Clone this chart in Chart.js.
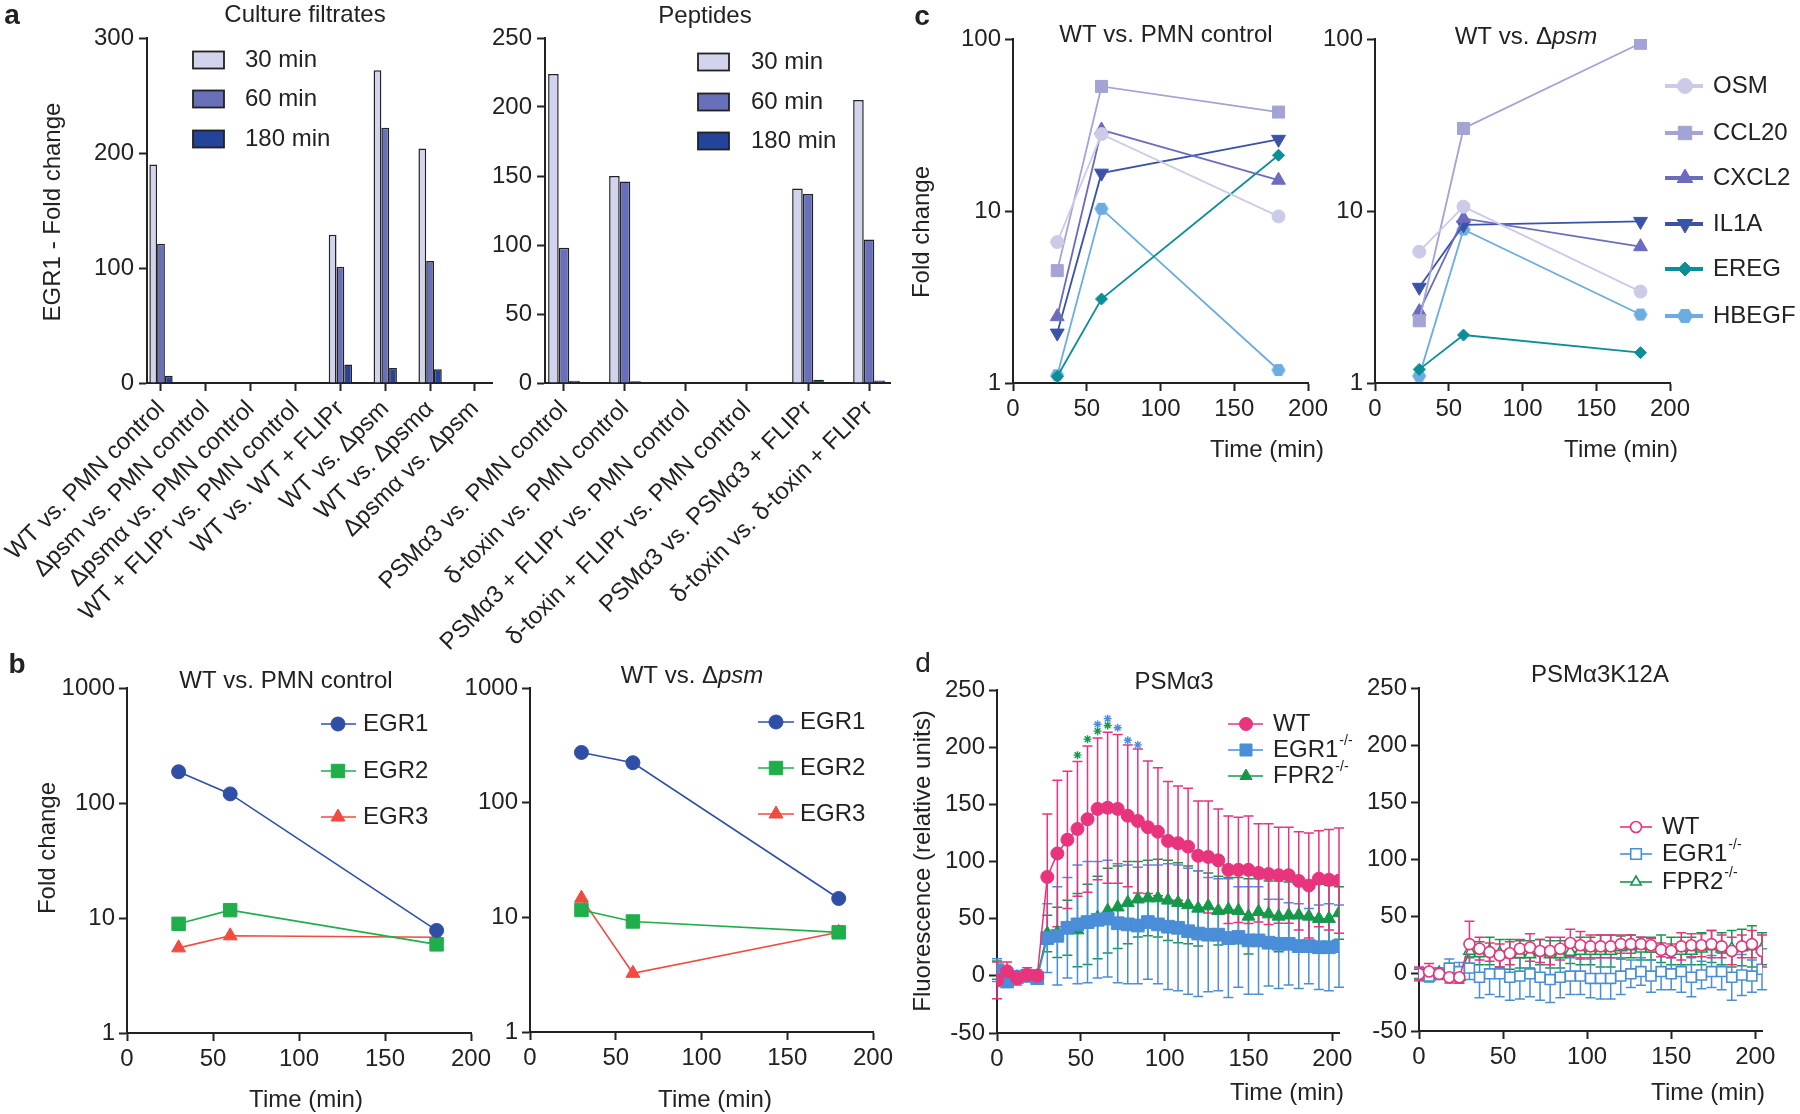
<!DOCTYPE html>
<html>
<head>
<meta charset="utf-8">
<script src="https://cdn.jsdelivr.net/npm/chart.js@4.4.0/dist/chart.umd.min.js"></script>
<style>
html, body { margin: 0; padding: 0; background: #fff; }
#fig { position: relative; width: 1800px; height: 1114px; }
#fig canvas { position: absolute; left: 0; top: 0; }
</style>
</head>
<body>
<div id="fig">
  <canvas id="a1" width="1800" height="1114"></canvas>
  <canvas id="a2" width="1800" height="1114"></canvas>
  <canvas id="b1" width="1800" height="1114"></canvas>
  <canvas id="b2" width="1800" height="1114"></canvas>
  <canvas id="c1" width="1800" height="1114"></canvas>
  <canvas id="c2" width="1800" height="1114"></canvas>
  <canvas id="d1" width="1800" height="1114"></canvas>
  <canvas id="d2" width="1800" height="1114"></canvas>
</div>
<script>
var PAGE_W = 1800, PAGE_H = 1114;
var FONT = '"Liberation Sans", Arial, Helvetica, sans-serif';
var INK = '#222222';

// ---- panel a: EGR1 fold change bars
var barTimes = ['30 min', '60 min', '180 min'];
var filtrateLabels = ['WT vs. PMN control', 'Δpsm vs. PMN control', 'Δpsmα vs. PMN control',
  'WT + FLIPr vs. PMN control', 'WT vs. WT + FLIPr', 'WT vs. Δpsm', 'WT vs. Δpsmα', 'Δpsmα vs. Δpsm'];
var filtrate30 = [190, 0, 0, 0, 129, 272, 204, 0];
var filtrate60 = [121, 0, 0, 0, 101, 222, 106, 0];
var filtrate180 = [6.4, 0, 0, 0, 16, 13, 12, 0];
var peptideLabels = ['PSMα3 vs. PMN control', 'δ-toxin vs. PMN control', 'PSMα3 + FLIPr vs. PMN control',
  'δ-toxin + FLIPr vs. PMN control', 'PSMα3 vs. PSMα3 + FLIPr', 'δ-toxin vs. δ-toxin + FLIPr'];
var peptide30 = [224, 150, 0, 0, 141, 205];
var peptide60 = [98, 146, 0, 0, 137, 104];
var peptide180 = [1.7, 1.2, 0, 0, 2.4, 1.9];
var filtrateTicks = [0, 100, 200, 300];
var peptideTicks = [0, 50, 100, 150, 200, 250];

// ---- panel b: EGR family time course
var egrNames = ['EGR1', 'EGR2', 'EGR3'];
var sampleTimes = [30, 60, 180];
var pmnEGR1 = [187, 120, 7.8];
var pmnEGR2 = [8.9, 11.7, 5.9];
var pmnEGR3 = [5.5, 7.0, 6.8];
var psmEGR1 = [274, 223, 14.6];
var psmEGR2 = [11.6, 9.2, 7.4];
var psmEGR3 = [14.7, 3.25, 7.4];
var logTicksB = [1, 10, 100, 1000];
var timeTicks = [0, 50, 100, 150, 200];

// ---- panel c: other genes
var geneNames = ['OSM', 'CCL20', 'CXCL2', 'IL1A', 'EREG', 'HBEGF'];
var pmnOSM = [6.6, 28, 9.3];
var pmnCCL20 = [4.5, 53, 37.6];
var pmnCXCL2 = [2.43, 29.6, 15.1];
var pmnIL1A = [1.95, 16.6, 26.1];
var pmnEREG = [1.09, 3.08, 21.1];
var pmnHBEGF = [1.11, 10.3, 1.19];
var psmOSM = [5.8, 10.6, 3.4];
var psmCCL20 = [2.3, 30.2, 94.4];
var psmCXCL2 = [2.6, 9.06, 6.2];
var psmIL1A = [3.6, 8.3, 8.7];
var psmEREG = [1.2, 1.9, 1.5];
var psmHBEGF = [1.1, 7.8, 2.5];
var logTicksC = [1, 10, 100];

// ---- panel d: fluorescence kinetics (mean and SD)
var strainNames = ['WT', 'EGR1', 'FPR2'];
var readTimes = [0, 6, 12, 18, 24, 30, 36, 42, 48, 54, 60, 66, 72, 78, 84, 90, 96, 102, 108, 114,
  120, 126, 132, 138, 144, 150, 156, 162, 168, 174, 180, 186, 192, 198, 204];
var a3WT = [-4, 4, -2, 1, 0, 86.5, 107, 119, 128.5, 137, 146, 147, 146, 140, 135.5, 130, 126, 118, 116, 113,
  105, 104, 101, 92.7, 92.7, 92.7, 90, 89, 88, 88, 83, 79, 85, 84, 83.3];
var a3WTsd = [16, 8, 6, 6, 5, 55, 64, 60, 59, 64, 62, 66, 65, 62, 63, 58, 56, 52, 50, 51,
  48, 49, 45, 47, 46, 47, 43, 44, 42, 42, 43, 46, 42, 44, 46];
var a3EGR1 = [5, -5, -1, 0, -2, 33, 35, 42, 45, 47, 49, 50, 46, 45, 44, 47, 45, 43, 42, 39,
  37, 36, 36, 33, 34, 31, 31, 29, 28, 28, 26, 26, 25, 25, 26];
var a3EGR1sd = [10, 5, 4, 4, 4, 30, 43, 44, 52, 53, 51, 51, 52, 52, 51, 50, 52, 55, 55, 55,
  55, 50, 49, 52, 44, 47, 47, 38, 39, 36, 37, 33, 37, 38, 36];
var a3FPR2 = [5, -5, -1, 0, 0, 37, 38, 42, 40, 45, 51, 57, 60, 64, 67, 68, 68, 66, 64, 62,
  59, 61, 57, 58, 57, 52, 56, 54, 52, 53, 53, 52, 50, 50, 55];
var a3FPR2sd = [8, 5, 4, 4, 4, 16, 22, 24, 32, 35, 36, 37, 36, 36, 33, 33, 34, 35, 35, 34,
  33, 29, 30, 28, 29, 33, 29, 29, 31, 29, 29, 28, 30, 29, 23];
var starGreenT = [48, 54, 60, 66];
var starGreenY = [193, 207, 214, 219];
var starBlueT = [60, 66, 72, 78, 84];
var starBlueY = [220, 225, 217, 206, 202];
var k12WT = [0, 2, 0, -3, -3, 26, 22, 19, 16, 18, 22, 23, 20, 20, 22, 27, 25, 24, 24, 24,
  26, 26, 26, 25, 21, 20, 24, 25, 25, 26, 24, 20, 24, 26, 20];
var k12WTsd = [6, 7, 3, 5, 5, 20, 10, 8, 10, 10, 8, 12, 10, 12, 10, 12, 12, 10, 10, 10,
  8, 8, 6, 6, 6, 6, 12, 10, 10, 12, 10, 12, 10, 12, 14];
var k12EGR1 = [0, -2, 0, 5, 2, 5, -3, 0, 0, -3, -2, 0, -3, -5, -3, -2, -2, -4, -4, -4,
  -2, 0, 2, -2, 2, 0, 2, -3, -1, 2, 2, -3, -1, -2, 4];
var k12EGR1sd = [5, 5, 5, 8, 8, 10, 18, 18, 20, 20, 20, 20, 20, 20, 18, 16, 16, 17, 18, 18,
  16, 12, 12, 14, 16, 14, 18, 17, 12, 14, 16, 20, 18, 14, 18];
var k12FPR2 = [0, -3, 1, 3, -3, 20, 18, 20, 18, 17, 17, 17, 19, 17, 17, 19, 20, 20, 20, 20,
  23, 24, 22, 22, 22, 20, 20, 20, 22, 24, 22, 22, 23, 24, 22];
var k12FPR2sd = [4, 4, 4, 5, 5, 6, 10, 12, 12, 13, 12, 12, 11, 12, 12, 10, 12, 12, 14, 14,
  10, 10, 10, 10, 12, 12, 12, 12, 14, 14, 14, 16, 16, 18, 14];
var fluoTicks = [-50, 0, 50, 100, 150, 200, 250];

// colours
var barColors = ['#d2d3ec', '#6870ba', '#24449b'];
var egrColors = ['#2f4ea6', '#1fae4b', '#f14b3f'];
var geneColors = ['#cbcbe8', '#a3a3d5', '#6b6cbd', '#3a52a8', '#0c8e98', '#6badE1'];
var strainColors = ['#e8337d', '#4a8ed8', '#16984b'];

function pts(xs, ys) { return ys.map(function (v, i) { return {x: xs[i], y: v}; }); }
function fontStr(style, size, weight) { return (style || '') + ' ' + (weight || '') + ' ' + size + 'px ' + FONT; }

function hexMark(color, r) {
  var c = document.createElement('canvas');
  c.width = c.height = Math.ceil(2 * r + 2);
  var g = c.getContext('2d'), m = c.width / 2;
  g.fillStyle = color;
  g.beginPath();
  for (var k = 0; k < 6; k++) {
    var ang = k * Math.PI / 3;
    g.lineTo(m + r * Math.cos(ang), m + r * Math.sin(ang));
  }
  g.closePath();
  g.fill();
  return c;
}
var hexPlot = hexMark(geneColors[5], 7);
var hexKey = hexMark(geneColors[5], 8);

// free text and legends, keyed by canvas id
var textSpecs = {};
var legendSpecs = {};

function drawRich(ctx, it) {
  var parts = typeof it.t === 'string' ? [[it.t, '']] : it.t;
  var size = it.size || 24;
  ctx.save();
  ctx.translate(it.x, it.y);
  if (it.rot) ctx.rotate(it.rot);
  ctx.fillStyle = INK;
  ctx.textBaseline = 'middle';
  ctx.textAlign = 'left';
  var total = 0;
  parts.forEach(function (p) { ctx.font = fontStr(p[1], size, it.weight); total += ctx.measureText(p[0]).width; });
  var x = it.align === 'left' ? 0 : -total / 2;
  parts.forEach(function (p) {
    ctx.font = fontStr(p[1], size, it.weight);
    ctx.fillText(p[0], x, 0);
    x += ctx.measureText(p[0]).width;
  });
  ctx.restore();
}

var textPlugin = {
  id: 'figTexts',
  afterDraw: function (chart) {
    (textSpecs[chart.canvas.id] || []).forEach(function (it) { drawRich(chart.ctx, it); });
  }
};

var legendPlugin = {
  id: 'figLegend',
  afterDraw: function (chart) {
    var o = legendSpecs[chart.canvas.id];
    if (!o) return;
    var ctx = chart.ctx;
    o.rows.forEach(function (r, i) {
      var y = o.ys[i];
      ctx.save();
      if (o.kind === 'box') {
        ctx.fillStyle = r.color;
        ctx.strokeStyle = INK;
        ctx.lineWidth = 1.8;
        ctx.fillRect(o.x1, y - o.h / 2, o.x2 - o.x1, o.h);
        ctx.strokeRect(o.x1, y - o.h / 2, o.x2 - o.x1, o.h);
      } else {
        ctx.strokeStyle = r.color;
        ctx.lineWidth = o.lw;
        ctx.beginPath();
        ctx.moveTo(o.x1, y);
        ctx.lineTo(o.x2, y);
        ctx.stroke();
        ctx.fillStyle = r.fill || r.color;
        ctx.lineWidth = r.bw || 1;
        Chart.helpers.drawPoint(ctx, {pointStyle: r.style, rotation: r.rot || 0, radius: r.r, borderWidth: r.bw || 1}, o.mx, y);
      }
      ctx.fillStyle = INK;
      ctx.font = fontStr('', 24);
      ctx.textBaseline = 'middle';
      ctx.textAlign = 'left';
      ctx.fillText(r.label, o.tx, y);
      if (r.sup) {
        var w = ctx.measureText(r.label).width;
        ctx.font = fontStr('', 14);
        ctx.fillText(r.sup, o.tx + w + 1, y - 9);
      }
      ctx.restore();
    });
  }
};

var errorBarPlugin = {
  id: 'errorBars',
  beforeDatasetsDraw: function (chart) {
    var ctx = chart.ctx, xs = chart.scales.x, ys = chart.scales.y;
    for (var i = chart.data.datasets.length - 1; i >= 0; i--) {
      var ds = chart.data.datasets[i];
      if (!ds.sd) continue;
      ctx.save();
      ctx.strokeStyle = ds.borderColor;
      ctx.lineWidth = 1.5;
      ds.data.forEach(function (p, j) {
        var px = xs.getPixelForValue(p.x);
        var top = ys.getPixelForValue(p.y + ds.sd[j]);
        var bot = ys.getPixelForValue(p.y - ds.sd[j]);
        ctx.beginPath();
        ctx.moveTo(px, top); ctx.lineTo(px, bot);
        ctx.moveTo(px - 5, top); ctx.lineTo(px + 5, top);
        ctx.moveTo(px - 5, bot); ctx.lineTo(px + 5, bot);
        ctx.stroke();
      });
      ctx.restore();
    }
  }
};

function axis(extra) {
  var a = {
    border: {display: true, color: INK, width: 2},
    grid: {display: true, drawOnChartArea: false, drawTicks: true, tickLength: 8, tickWidth: 2, tickColor: INK, offset: false},
    ticks: {color: INK, font: {family: FONT, size: 24}, padding: 4, autoSkip: false, maxRotation: 0, minRotation: 0}
  };
  for (var k in extra) {
    if (k === 'ticks') { for (var t in extra.ticks) a.ticks[t] = extra.ticks[t]; }
    else a[k] = extra[k];
  }
  return a;
}
function fixedTicks(values) {
  return function (s) { s.ticks = values.map(function (v) { return {value: v}; }); };
}

// area = [left, top, right, bottom] of the plot area in page pixels
function build(id, type, datasets, area, wy, hx, xOpts, yOpts) {
  xOpts.afterFit = function (s) { s.height = hx; };
  yOpts.afterFit = function (s) { s.width = wy; };
  return new Chart(document.getElementById(id), {
    type: type,
    data: {datasets: datasets},
    options: {
      responsive: false,
      animation: false,
      devicePixelRatio: 1,
      layout: {padding: {left: area[0] - wy, top: area[1], right: PAGE_W - area[2], bottom: PAGE_H - area[3] - hx}},
      plugins: {legend: {display: false}, tooltip: {enabled: false}, title: {display: false}},
      scales: {x: axis(xOpts), y: axis(yOpts)}
    },
    plugins: [errorBarPlugin, textPlugin, legendPlugin]
  });
}

// ================= panel a =================
function barSets(labels, s30, s60, s180) {
  return [s30, s60, s180].map(function (arr, k) {
    return {
      label: barTimes[k],
      data: arr.map(function (v, i) { return {x: i, y: v}; }),
      backgroundColor: barColors[k],
      borderColor: INK,
      borderWidth: 1.5,
      categoryPercentage: 0.52,
      barPercentage: 1.0
    };
  });
}
function catAxis(labels, min, max) {
  return {
    type: 'linear', min: min, max: max, offset: false,
    afterBuildTicks: fixedTicks(labels.map(function (l, i) { return i; })),
    ticks: {
      callback: function (v, i) { return labels[i]; },
      font: {family: FONT, size: 24},
      minRotation: 45, maxRotation: 45, padding: 4
    }
  };
}

textSpecs.a1 = [
  {t: 'a', x: 12, y: 16, size: 28, weight: 'bold'},
  {t: 'Culture filtrates', x: 305, y: 15},
  {t: 'EGR1 - Fold change', x: 53, y: 212, rot: -Math.PI / 2}
];
legendSpecs.a1 = {kind: 'box', x1: 193, x2: 224, h: 17, tx: 245, ys: [60, 99, 139],
  rows: barTimes.map(function (t, k) { return {label: t, color: barColors[k]}; })};
build('a1', 'bar', barSets(filtrateLabels, filtrate30, filtrate60, filtrate180), [147, 38, 492, 383], 80, 320,
  catAxis(filtrateLabels, -0.312, 7.38),
  {type: 'linear', min: 0, max: 300, afterBuildTicks: fixedTicks(filtrateTicks), ticks: {padding: 5}});

textSpecs.a2 = [{t: 'Peptides', x: 705, y: 16}];
legendSpecs.a2 = {kind: 'box', x1: 698, x2: 729, h: 17, tx: 751, ys: [62, 102, 141],
  rows: barTimes.map(function (t, k) { return {label: t, color: barColors[k]}; })};
build('a2', 'bar', barSets(peptideLabels, peptide30, peptide60, peptide180), [545, 38, 890, 383], 70, 320,
  catAxis(peptideLabels, -0.311, 5.344),
  {type: 'linear', min: 0, max: 250, afterBuildTicks: fixedTicks(peptideTicks), ticks: {padding: 5}});

// ================= panel b =================
var egrStyles = [{s: 'circle', r: 7}, {s: 'rect', r: 9.5}, {s: 'triangle', r: 8}];
function egrSets(s1, s2, s3) {
  return [s1, s2, s3].map(function (arr, k) {
    return {
      label: egrNames[k], data: pts(sampleTimes, arr),
      borderColor: egrColors[k], backgroundColor: egrColors[k], borderWidth: 1.6,
      pointStyle: egrStyles[k].s, pointRadius: egrStyles[k].r, pointBorderWidth: 1
    };
  });
}
function egrLegend(x1, x2, mx, tx, ys) {
  return {kind: 'line', x1: x1, x2: x2, mx: mx, tx: tx, ys: ys, lw: 1.6,
    rows: egrNames.map(function (n, k) { return {label: n, color: egrColors[k], style: egrStyles[k].s, r: egrStyles[k].r}; })};
}
function timeAxis(max) {
  return {type: 'linear', min: 0, max: max, afterBuildTicks: fixedTicks(timeTicks)};
}
function logAxis(max, ticks) {
  return {type: 'logarithmic', min: 1, max: max, afterBuildTicks: fixedTicks(ticks),
    ticks: {callback: function (v) { return String(v); }}};
}

textSpecs.b1 = [
  {t: 'b', x: 17, y: 665, size: 28, weight: 'bold'},
  {t: 'WT vs. PMN control', x: 286, y: 681},
  {t: 'Fold change', x: 48, y: 848, rot: -Math.PI / 2},
  {t: 'Time (min)', x: 306, y: 1100}
];
legendSpecs.b1 = egrLegend(321, 356, 338, 363, [724, 771, 817]);
build('b1', 'line', egrSets(pmnEGR1, pmnEGR2, pmnEGR3), [127, 688, 471, 1033], 80, 80,
  timeAxis(200), logAxis(1000, logTicksB));

textSpecs.b2 = [
  {t: [['WT vs. Δ', ''], ['psm', 'italic']], x: 692, y: 676},
  {t: 'Time (min)', x: 715, y: 1100}
];
legendSpecs.b2 = egrLegend(758, 794, 776, 800, [722, 768, 814]);
build('b2', 'line', egrSets(psmEGR1, psmEGR2, psmEGR3), [530, 688, 873, 1032], 80, 80,
  timeAxis(200), logAxis(1000, logTicksB));

// ================= panel c =================
var geneStyles = [
  {s: 'circle', r: 6.5, rot: 0}, {s: 'rect', r: 8.5, rot: 0}, {s: 'triangle', r: 8, rot: 0},
  {s: 'triangle', r: 8, rot: 180}, {s: 'rectRot', r: 6, rot: 0}, {s: hexPlot, r: 7, rot: 0}
];
function geneSets(list) {
  return list.map(function (arr, k) {
    return {
      label: geneNames[k], data: pts(sampleTimes, arr),
      borderColor: geneColors[k], backgroundColor: geneColors[k], borderWidth: 1.8,
      pointStyle: geneStyles[k].s, pointRadius: geneStyles[k].r, pointRotation: geneStyles[k].rot, pointBorderWidth: 1
    };
  });
}

textSpecs.c1 = [
  {t: 'c', x: 922, y: 17, size: 28, weight: 'bold'},
  {t: 'WT vs. PMN control', x: 1166, y: 35},
  {t: 'Fold change', x: 922, y: 232, rot: -Math.PI / 2},
  {t: 'Time (min)', x: 1267, y: 450}
];
build('c1', 'line', geneSets([pmnOSM, pmnCCL20, pmnCXCL2, pmnIL1A, pmnEREG, pmnHBEGF]), [1013, 39, 1308, 383], 70, 60,
  timeAxis(200), logAxis(100, logTicksC));

textSpecs.c2 = [
  {t: [['WT vs. Δ', ''], ['psm', 'italic']], x: 1526, y: 37},
  {t: 'Time (min)', x: 1621, y: 450}
];
legendSpecs.c2 = {kind: 'line', x1: 1665, x2: 1703, mx: 1685, tx: 1713, ys: [86, 133, 178, 224, 269, 316], lw: 4,
  rows: geneNames.map(function (n, k) {
    return {label: n, color: geneColors[k], style: k === 5 ? hexKey : geneStyles[k].s, r: geneStyles[k].r + 1, rot: geneStyles[k].rot};
  })};
build('c2', 'line', geneSets([psmOSM, psmCCL20, psmCXCL2, psmIL1A, psmEREG, psmHBEGF]), [1375, 39, 1670, 383], 70, 60,
  timeAxis(200), logAxis(100, logTicksC));

// ================= panel d =================
function strainSets(series, sds, open) {
  var styles = open ? [{s: 'circle', r: 5.5}, {s: 'rect', r: 7}, {s: 'triangle', r: 6.5}]
                    : [{s: 'circle', r: 6.5}, {s: 'rect', r: 9}, {s: 'triangle', r: 7.5}];
  return series.map(function (arr, k) {
    return {
      label: strainNames[k], data: pts(readTimes, arr), sd: sds[k],
      borderColor: strainColors[k], backgroundColor: strainColors[k], borderWidth: 1.5,
      pointStyle: styles[k].s, pointRadius: styles[k].r,
      pointBackgroundColor: open ? '#ffffff' : strainColors[k], pointBorderWidth: open ? 1.6 : 1
    };
  });
}
function strainLegend(x1, x2, mx, tx, ys, open) {
  var st = [{s: 'circle', r: 6.5}, {s: 'rect', r: 8.5}, {s: 'triangle', r: 7}];
  return {kind: 'line', x1: x1, x2: x2, mx: mx, tx: tx, ys: ys, lw: 1.6,
    rows: strainNames.map(function (n, k) {
      return {label: n, sup: k ? '-/-' : '', color: strainColors[k], style: st[k].s, r: open ? st[k].r - 1 : st[k].r,
        fill: open ? '#ffffff' : strainColors[k], bw: open ? 1.6 : 1};
    })};
}
function starSet(ts, ys, color) {
  return {label: 'p', data: pts(ts, ys), showLine: false, borderColor: color, backgroundColor: color,
    pointStyle: 'star', pointRadius: 4, pointBorderWidth: 1.4};
}

textSpecs.d1 = [
  {t: 'd', x: 923, y: 664, size: 28},
  {t: 'PSMα3', x: 1174, y: 682},
  {t: 'Fluorescence (relative units)', x: 923, y: 861, rot: -Math.PI / 2},
  {t: 'Time (min)', x: 1287, y: 1093}
];
legendSpecs.d1 = strainLegend(1228, 1263, 1246, 1273, [724, 750, 776], false);
build('d1', 'line',
  strainSets([a3WT, a3EGR1, a3FPR2], [a3WTsd, a3EGR1sd, a3FPR2sd], false)
    .concat([starSet(starGreenT, starGreenY, strainColors[2]), starSet(starBlueT, starBlueY, strainColors[1])]),
  [997, 690, 1339, 1033], 80, 60,
  timeAxis(204), {type: 'linear', min: -50, max: 250, afterBuildTicks: fixedTicks(fluoTicks)});

textSpecs.d2 = [
  {t: 'PSMα3K12A', x: 1600, y: 675},
  {t: 'Time (min)', x: 1708, y: 1093}
];
legendSpecs.d2 = strainLegend(1620, 1652, 1636, 1662, [827, 854, 882], true);
build('d2', 'line',
  strainSets([k12WT, k12EGR1, k12FPR2], [k12WTsd, k12EGR1sd, k12FPR2sd], true),
  [1419, 688, 1762, 1031], 80, 60,
  timeAxis(204), {type: 'linear', min: -50, max: 250, afterBuildTicks: fixedTicks(fluoTicks)});
</script>
</body>
</html>
